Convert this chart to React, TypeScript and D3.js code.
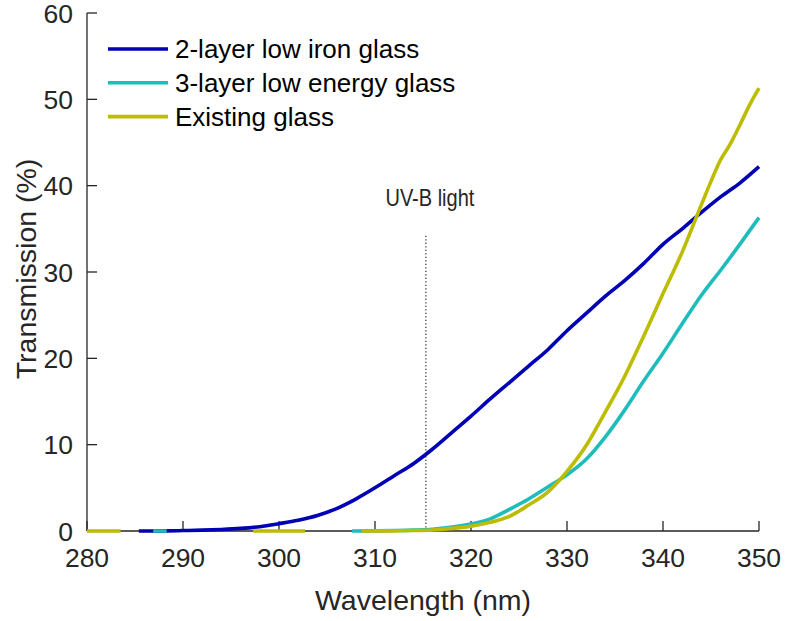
import React from "react";
import * as d3 from "d3";

const xTicks = [280, 290, 300, 310, 320, 330, 340, 350];
const yTicks = [0, 10, 20, 30, 40, 50, 60];

const seriesNames = ["2-layer low iron glass", "3-layer low energy glass", "Existing glass"];
const seriesColors = ["#0000b4", "#1fbcbc", "#bcbc00"];

const wlBlue = [285.4, 287, 288.3, 290, 292, 294, 296, 298, 300, 302, 304, 306, 308, 310, 312, 314, 316, 318, 320, 322, 324, 326, 328, 330, 332, 334, 336, 338, 340, 342, 344, 346, 348, 350];
const tBlue = [0, 0, 0.01, 0.05, 0.1, 0.18, 0.3, 0.5, 0.85, 1.25, 1.8, 2.6, 3.7, 5.0, 6.4, 7.8, 9.5, 11.4, 13.3, 15.3, 17.2, 19.1, 21.0, 23.2, 25.2, 27.2, 29.0, 31.0, 33.2, 35.0, 36.9, 38.7, 40.3, 42.2];

const wlCyan = [286.9, 288.3, 298, 307.6, 310, 312, 314, 316, 318, 320, 322, 324, 326, 328, 330, 332, 334, 336, 338, 340, 342, 344, 346, 348, 350];
const tCyan = [0, 0, null, 0, 0.02, 0.05, 0.1, 0.2, 0.45, 0.8, 1.4, 2.5, 3.7, 5.1, 6.5, 8.3, 10.9, 14.0, 17.4, 20.6, 24.0, 27.3, 30.2, 33.2, 36.3];

const wlYellow = [280, 283.5, 290, 297.3, 302.7, 305, 308.6, 312, 314, 316, 318, 320, 322, 324, 326, 328, 330, 332, 334, 336, 338, 340, 342, 344, 345, 346, 347, 348, 349, 350];
const tYellow = [0, 0, null, 0, 0, null, 0, 0.02, 0.05, 0.12, 0.3, 0.55, 1.0, 1.7, 3.0, 4.5, 6.9, 9.9, 13.8, 17.9, 22.6, 27.5, 32.3, 37.8, 40.5, 43.0, 44.8, 47.0, 49.3, 51.3];

const uvbWavelength = 315.3;
const uvbTop = 34.2;
const uvbLabel = "UV-B light";

const W = 788;
const H = 621;
const font = "'Liberation Sans', Arial, Helvetica, sans-serif";
const ink = "#262626";

export default function App() {
  const x = d3.scaleLinear().domain([280, 350]).range([87, 759]);
  const y = d3.scaleLinear().domain([0, 60]).range([531, 13]);

  const series = [
    { wl: wlBlue, t: tBlue },
    { wl: wlCyan, t: tCyan },
    { wl: wlYellow, t: tYellow },
  ];

  const line = d3
    .line<[number, number | null]>()
    .defined((d) => d[1] !== null)
    .x((d) => x(d[0]))
    .y((d) => y(d[1] as number))
    .curve(d3.curveMonotoneX);

  return (
    <div style={{ position: "absolute", left: 0, top: 0 }}>
      <svg width={W} height={H} style={{ display: "block", background: "#fff" }}>
        {/* axes */}
        <line x1={x(280)} x2={x(350)} y1={y(0)} y2={y(0)} stroke={ink} strokeWidth={1.3} />
        <line x1={x(280)} x2={x(280)} y1={y(0)} y2={y(60)} stroke={ink} strokeWidth={1.3} />
        {xTicks.map((t) => (
          <g key={"x" + t}>
            <line x1={x(t)} x2={x(t)} y1={y(0)} y2={y(0) - 10} stroke={ink} strokeWidth={1.3} />
            <text x={x(t)} y={567} textAnchor="middle" fontFamily={font} fontSize={26.5} fill={ink}>
              {t}
            </text>
          </g>
        ))}
        {yTicks.map((t) => (
          <g key={"y" + t}>
            <line x1={x(280)} x2={x(280) + 10} y1={y(t)} y2={y(t)} stroke={ink} strokeWidth={1.3} />
            <text x={73} y={y(t) + 9.5} textAnchor="end" fontFamily={font} fontSize={26.5} fill={ink}>
              {t}
            </text>
          </g>
        ))}
        <text x={(x(280) + x(350)) / 2} y={610} textAnchor="middle" fontFamily={font} fontSize={28.5} fill={ink}>
          Wavelength (nm)
        </text>
        <text
          transform={`translate(36, 269) rotate(-90)`}
          textAnchor="middle"
          fontFamily={font}
          fontSize={28.5}
          fill={ink}
        >
          Transmission (%)
        </text>

        {/* UV-B marker */}
        <line
          x1={x(uvbWavelength)}
          x2={x(uvbWavelength)}
          y1={y(0)}
          y2={y(uvbTop)}
          stroke={ink}
          strokeWidth={1.2}
          strokeDasharray="1.2 2.3"
        />
        <text
          transform={`translate(${x(uvbWavelength) + 4}, 206) scale(1, 1.17)`}
          textAnchor="middle"
          fontFamily={font}
          fontSize={20}
          fill={ink}
        >
          {uvbLabel}
        </text>

        {/* series */}
        {series.map((s, i) => (
          <path
            key={i}
            d={line(s.wl.map((w, j) => [w, s.t[j]] as [number, number | null])) || ""}
            fill="none"
            stroke={seriesColors[i]}
            strokeWidth={3.6}
            strokeLinejoin="round"
          />
        ))}

        {/* legend */}
        {seriesNames.map((n, i) => (
          <g key={n} transform={`translate(0, ${49 + i * 33.8})`}>
            <line x1={108} x2={168} y1={0} y2={0} stroke={seriesColors[i]} strokeWidth={3.6} />
            <text x={175} y={9} fontFamily={font} fontSize={26} fill="#000">
              {n}
            </text>
          </g>
        ))}
      </svg>
    </div>
  );
}
